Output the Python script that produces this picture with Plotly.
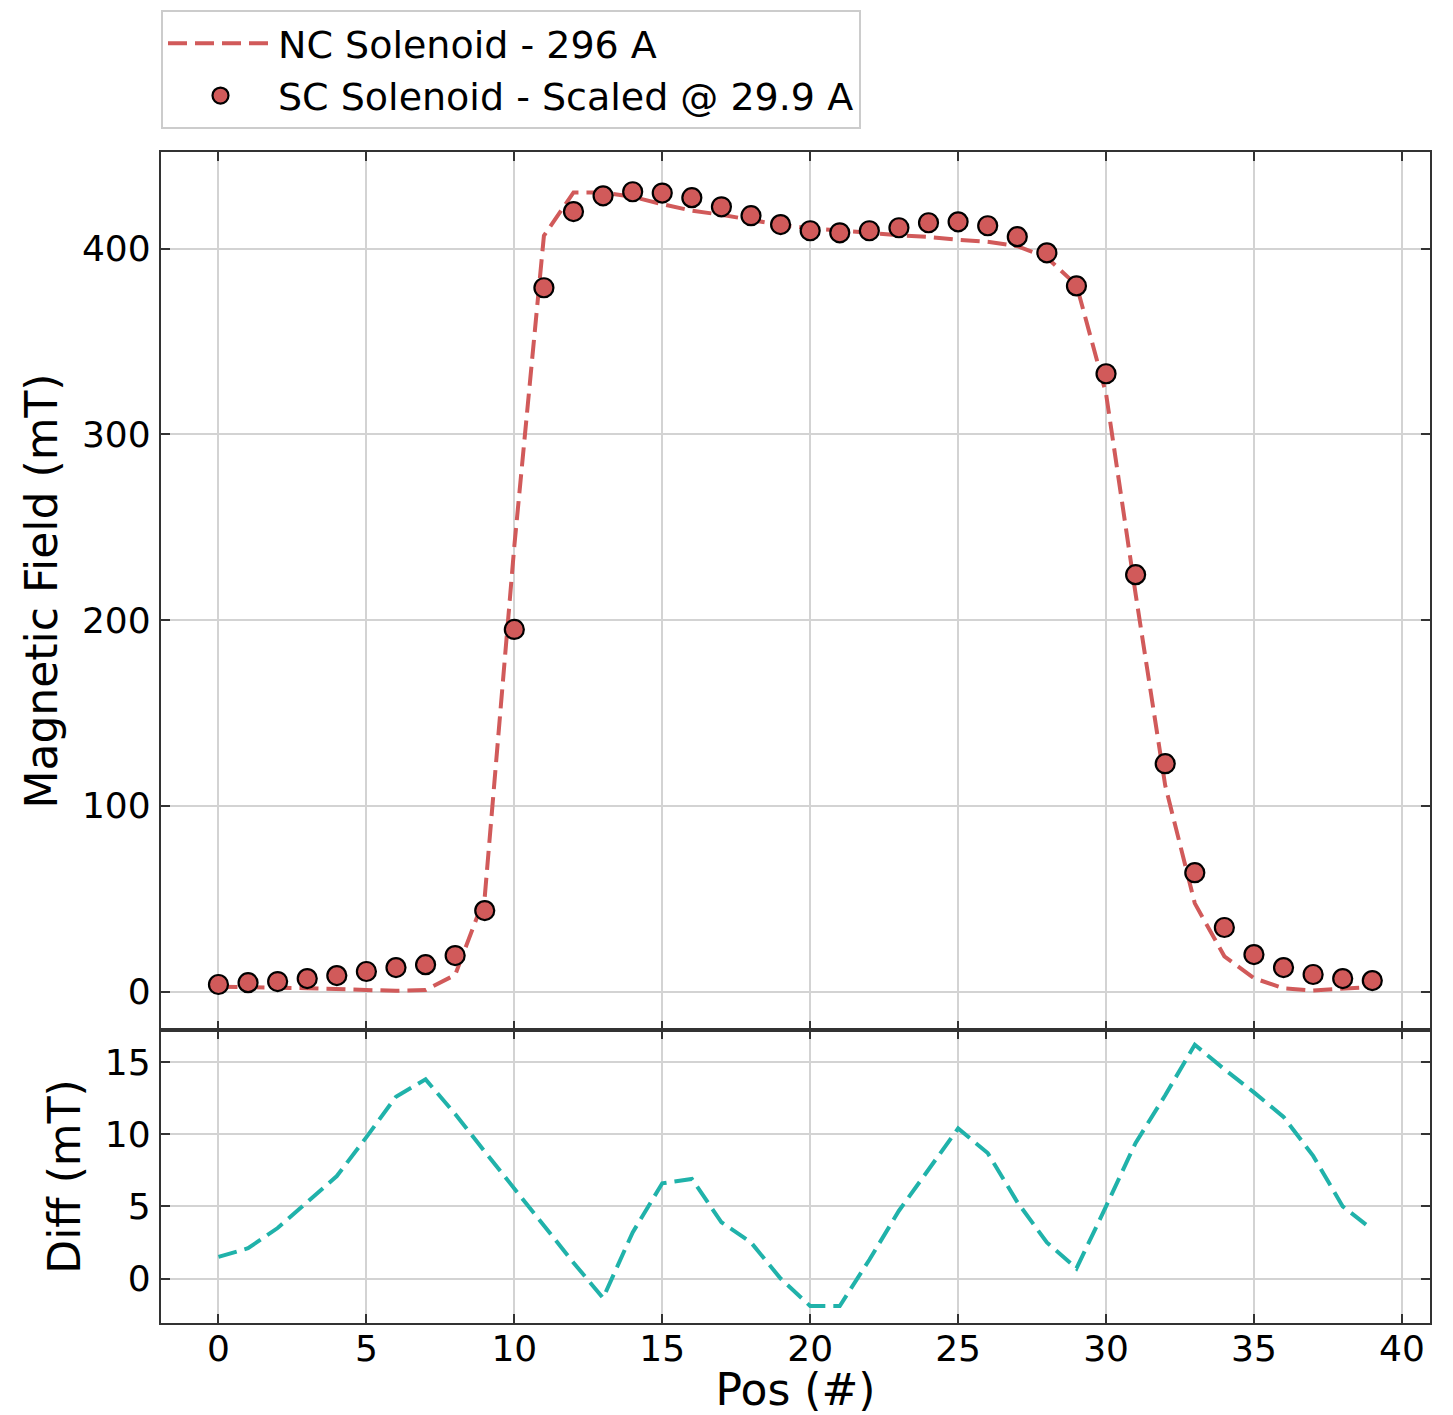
import plotly.graph_objects as go
from plotly.subplots import make_subplots

# ---- data ----
pos = list(range(40))
sc_field = [3.8, 4.8, 5.4, 7.0, 8.6, 10.8, 12.9, 14.5, 19.4, 43.6,
            195.0, 379.0, 420.0, 428.5, 430.7, 430.0, 427.5, 422.6, 417.8, 413.0,
            409.7, 408.6, 409.7, 411.3, 414.0, 414.5, 412.4, 406.5, 397.8, 380.0,
            332.7, 224.5, 122.7, 64.0, 34.5, 19.9, 12.9, 9.2, 7.0, 5.9]
nc_field = [2.6, 2.6, 2.1, 1.8, 1.4, 1.2, 0.4, 0.8, 9.0, 51.0,
            240.0, 407.0, 430.3, 430.3, 428.0, 424.0, 420.5, 418.3, 415.8, 412.8,
            411.0, 410.0, 408.6, 407.3, 406.4, 404.8, 403.8, 401.4, 395.3, 380.5,
            322.0, 214.0, 111.0, 47.5, 19.0, 7.2, 1.7, 0.6, 1.8, 2.5]
diff = [1.5, 2.1, 3.5, 5.3, 7.1, 9.8, 12.6, 13.8, 11.4, 8.8,
        6.2, 3.6, 1.1, -1.35, 3.2, 6.6, 6.9, 3.9, 2.5, 0.0,
        -1.9, -1.9, 1.3, 4.7, 7.6, 10.4, 8.7, 5.3, 2.5, 0.7,
        5.0, 9.4, 12.7, 16.2, 14.5, 12.9, 11.2, 8.5, 5.0, 3.4]
x_ticks = [0, 5, 10, 15, 20, 25, 30, 35, 40]
top_ticks = [0, 100, 200, 300, 400]
bottom_ticks = [0, 5, 10, 15]

RED = "#d15a5a"
TEAL = "#20b2aa"
FRAME = "#333333"
GRID = "#d3d3d3"
FONT = "DejaVu Sans, sans-serif"

fig = make_subplots(rows=2, cols=1, shared_xaxes=True, vertical_spacing=0,
                    row_heights=[0.7498, 0.2502])

fig.add_trace(go.Scatter(x=pos, y=nc_field, mode="lines", name="NC Solenoid - 296 A",
                         line=dict(color=RED, width=4, dash="19px,8px")), row=1, col=1)
fig.add_trace(go.Scatter(x=pos, y=sc_field, mode="markers", name="SC Solenoid - Scaled @ 29.9 A",
                         marker=dict(symbol="circle", size=19, color=RED,
                                     line=dict(color="black", width=2.2))), row=1, col=1)
fig.add_trace(go.Scatter(x=pos, y=diff, mode="lines", showlegend=False,
                         line=dict(color=TEAL, width=4, dash="19px,8px")), row=2, col=1)

axis_common = dict(showline=True, linecolor=FRAME, linewidth=2.3, mirror="allticks",
                   ticks="inside", ticklen=9, tickwidth=2, tickcolor=FRAME,
                   showgrid=True, gridcolor=GRID, gridwidth=1.5, zeroline=False,
                   automargin=False,
                   tickfont=dict(size=36, color="black", family=FONT))

fig.update_xaxes(**axis_common, range=[-1.943, 40.95], tickvals=x_ticks,
                 ticklabelstandoff=-7)
fig.update_xaxes(showticklabels=False, row=1, col=1)
fig.update_xaxes(title=dict(text="Pos (#)", font=dict(size=44, family=FONT, color="black"),
                            standoff=17), row=2, col=1)

fig.update_yaxes(**axis_common, ticklabelstandoff=1)
fig.update_yaxes(range=[-20.7, 452.1], tickvals=top_ticks,
                 title=dict(text="Magnetic Field (mT)", font=dict(size=44, family=FONT, color="black"),
                            standoff=11), row=1, col=1)
fig.update_yaxes(range=[-3.08, 17.22], tickvals=bottom_ticks,
                 title=dict(text="Diff (mT)", font=dict(size=44, family=FONT, color="black"),
                            standoff=10), row=2, col=1)

fig.update_layout(
    width=1453, height=1415,
    margin=dict(l=161, r=23, t=152, b=92, autoexpand=False),
    paper_bgcolor="white", plot_bgcolor="white",
    font=dict(family=FONT, color="black"),
    showlegend=True,
    legend=dict(x=0, xanchor="left", y=1.1213, yanchor="top",
                font=dict(size=38, family=FONT, color="black"),
                bgcolor="white", bordercolor="#cccccc", borderwidth=2,
                itemwidth=105, tracegroupgap=0),
)

fig.write_html("out.html")
